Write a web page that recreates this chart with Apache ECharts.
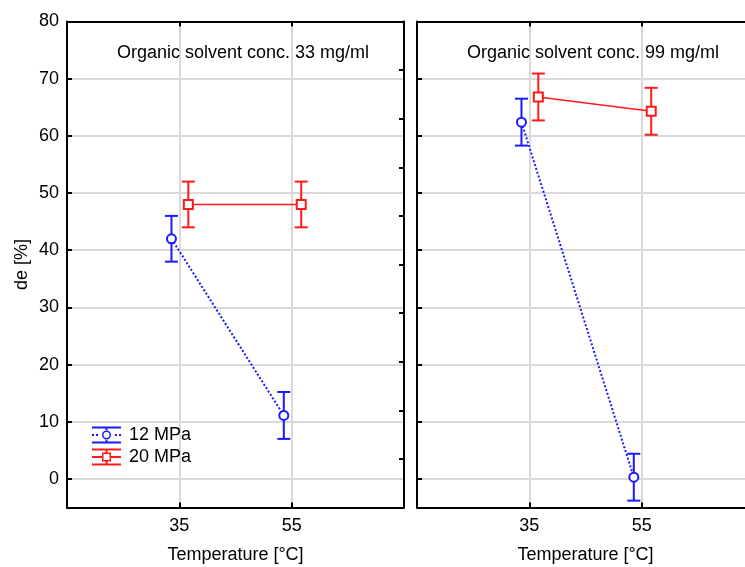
<!DOCTYPE html>
<html>
<head>
<meta charset="utf-8">
<script src="https://cdn.jsdelivr.net/npm/echarts@6/dist/echarts.min.js"></script>
<style>html,body{margin:0;padding:0;background:#fff}#c{width:745px;height:567px}</style>
</head>
<body>
<div id="c"></div>
<script>
// ---- data ----
const panelTitles = ['Organic solvent conc. 33 mg/ml', 'Organic solvent conc. 99 mg/ml'];
const xTickLabels = [35, 55];
const yTickValues = [0, 10, 20, 30, 40, 50, 60, 70, 80];
const seriesNames = ['12 MPa', '20 MPa'];
// plotted x positions (points are drawn slightly offset around 35 and 55)
const xPos12 = [33.6, 53.6];
const xPos20 = [36.6, 56.7];
// de [%] means and error half-widths
const left12 = [42.0, 11.1];
const left12Err = [4.0, 4.1];
const left20 = [48.0, 48.0];
const left20Err = [4.0, 4.0];
const right12 = [62.4, 0.3];
const right12Err = [4.1, 4.1];
const right20 = [66.8, 64.3];
const right20Err = [4.1, 4.1];

const BLUE = '#1a1aff';
const RED = '#ff1a1a';
const FONT = "'Liberation Sans', Arial, sans-serif";
const FS = 18;

function pts(xs, ys) { return xs.map((x, i) => [x, ys[i]]); }
function errs(xs, ys, es) { return xs.map((x, i) => [x, ys[i] - es[i], ys[i] + es[i]]); }

function errRender(color, lw) {
  return function (params, api) {
    const x = api.value(0), lo = api.value(1), hi = api.value(2);
    const a = api.coord([x, lo]), b = api.coord([x, hi]);
    const hw = 6.5;
    const st = { stroke: color, lineWidth: lw };
    return {
      type: 'group',
      children: [
        { type: 'line', shape: { x1: a[0], y1: a[1], x2: b[0], y2: b[1] }, style: st },
        { type: 'line', shape: { x1: a[0] - hw, y1: a[1], x2: a[0] + hw, y2: a[1] }, style: st },
        { type: 'line', shape: { x1: b[0] - hw, y1: b[1], x2: b[0] + hw, y2: b[1] }, style: st }
      ]
    };
  };
}

const icon12 = 'path://M0,0H29V2H0Z M0,15H29V17H0Z M13.5,2H15.5V4.5H13.5Z M13.5,12.5H15.5V15H13.5Z ' +
  'M0,7.5H2V9.5H0Z M4,7.5H6V9.5H4Z M23,7.5H25V9.5H23Z M27,7.5H29V9.5H27Z ' +
  'M19,8.5A4.5,4.5 0 1 0 10,8.5A4.5,4.5 0 1 0 19,8.5Z M17.5,8.5A3,3 0 1 1 11.5,8.5A3,3 0 1 1 17.5,8.5Z';
const icon20 = 'path://M0,0H29V2H0Z M0,15H29V17H0Z M13.5,2H15.5V4.5H13.5Z M13.5,12.5H15.5V15H13.5Z ' +
  'M0,7.5H10V9.5H0Z M19,7.5H29V9.5H19Z ' +
  'M10,4H19V13H10Z M11.5,11.5H17.5V5.5H11.5Z';

const grids = [
  { left: 67, top: 21.5, width: 337, height: 486, outerBoundsMode: 'none', containLabel: false },
  { left: 417, top: 21.5, width: 337, height: 486, outerBoundsMode: 'none', containLabel: false }
];

const xAxes = [], yAxes = [];
[0, 1].forEach(g => {
  xAxes.push({
    type: 'value', gridIndex: g, min: 15, max: 75, interval: 20, position: 'bottom',
    name: 'Temperature [°C]', nameLocation: 'middle', nameGap: 39,
    nameTextStyle: { fontSize: FS, fontFamily: FONT, color: '#000' },
    axisLine: { onZero: false, lineStyle: { color: '#000', width: 2 } },
    axisTick: { inside: true, length: 5, lineStyle: { color: '#000', width: 2 }, customValues: xTickLabels },
    axisLabel: { fontSize: FS, fontFamily: FONT, color: '#000', margin: 10, customValues: xTickLabels },
    splitLine: { show: true, lineStyle: { color: '#d9d9d9', width: 2 } }
  });
  xAxes.push({
    type: 'value', gridIndex: g, position: 'top', min: 15, max: 75, interval: 20,
    axisLine: { onZero: false, lineStyle: { color: '#000', width: 2 } },
    axisTick: { inside: true, length: 5, lineStyle: { color: '#000', width: 2 }, customValues: xTickLabels },
    axisLabel: { show: false },
    splitLine: { show: false }
  });
  yAxes.push({
    type: 'value', gridIndex: g, min: -5, max: 80, position: 'left',
    name: g === 0 ? 'de [%]' : '', nameLocation: 'middle', nameGap: 36,
    nameTextStyle: { fontSize: FS, fontFamily: FONT, color: '#000' },
    axisLine: { onZero: false, lineStyle: { color: '#000', width: 2 } },
    axisTick: { inside: true, length: 5, lineStyle: { color: '#000', width: 2 }, customValues: yTickValues },
    axisLabel: { show: g === 0, fontSize: FS, fontFamily: FONT, color: '#000', margin: 8, customValues: yTickValues },
    splitLine: { show: true, lineStyle: { color: '#d9d9d9', width: 2 } }
  });
  yAxes.push({
    type: 'value', gridIndex: g, min: 0, max: 10, interval: 1, position: 'right',
    axisLine: { show: true, onZero: false, lineStyle: { color: '#000', width: 2 } },
    axisTick: { inside: true, length: 5, lineStyle: { color: '#000', width: 2 } },
    axisLabel: { show: false },
    splitLine: { show: false }
  });
});

function lineSeries(name, g, data, color, dotted, symbol) {
  return {
    type: 'line', name: name, xAxisIndex: g * 2, yAxisIndex: g * 2, data: data,
    symbol: symbol, symbolSize: 9, z: 5,
    itemStyle: { color: color, borderWidth: 1.5 },
    lineStyle: { color: color, width: dotted ? 2 : 1.6, type: dotted ? [2, 2] : 'solid' },
    emphasis: { disabled: true }, animation: false
  };
}
function errSeries(g, data, color) {
  return {
    type: 'custom', name: 'err', xAxisIndex: g * 2, yAxisIndex: g * 2, data: data,
    renderItem: errRender(color, 2), encode: { x: 0, y: [1, 2] }, z: 3, animation: false, silent: true
  };
}

const option = {
  backgroundColor: '#fff',
  animation: false,
  title: [
    { text: panelTitles[0], left: 238, top: 39, textAlign: 'center', textStyle: { fontSize: FS, fontWeight: 'normal', fontFamily: FONT, color: '#000' } },
    { text: panelTitles[1], left: 588, top: 39, textAlign: 'center', textStyle: { fontSize: FS, fontWeight: 'normal', fontFamily: FONT, color: '#000' } }
  ],
  legend: {
    left: 87, top: 421, orient: 'vertical', itemWidth: 29, itemHeight: 17, itemGap: 4,
    textStyle: { fontSize: FS, fontFamily: FONT, color: '#000', padding: [0, 0, 0, 3] },
    selectedMode: false,
    data: [
      { name: seriesNames[0], icon: icon12, itemStyle: { color: BLUE, borderWidth: 0 } },
      { name: seriesNames[1], icon: icon20, itemStyle: { color: RED, borderWidth: 0 } }
    ]
  },
  grid: grids,
  xAxis: xAxes,
  yAxis: yAxes,
  series: [
    errSeries(0, errs(xPos12, left12, left12Err), BLUE),
    errSeries(0, errs(xPos20, left20, left20Err), RED),
    lineSeries(seriesNames[0], 0, pts(xPos12, left12), BLUE, true, 'emptyCircle'),
    lineSeries(seriesNames[1], 0, pts(xPos20, left20), RED, false, 'emptyRect'),
    errSeries(1, errs(xPos12, right12, right12Err), BLUE),
    errSeries(1, errs(xPos20, right20, right20Err), RED),
    lineSeries(seriesNames[0], 1, pts(xPos12, right12), BLUE, true, 'emptyCircle'),
    lineSeries(seriesNames[1], 1, pts(xPos20, right20), RED, false, 'emptyRect')
  ]
};

const chart = echarts.init(document.getElementById('c'), null, { renderer: 'canvas' });
chart.setOption(option);
</script>
</body>
</html>
